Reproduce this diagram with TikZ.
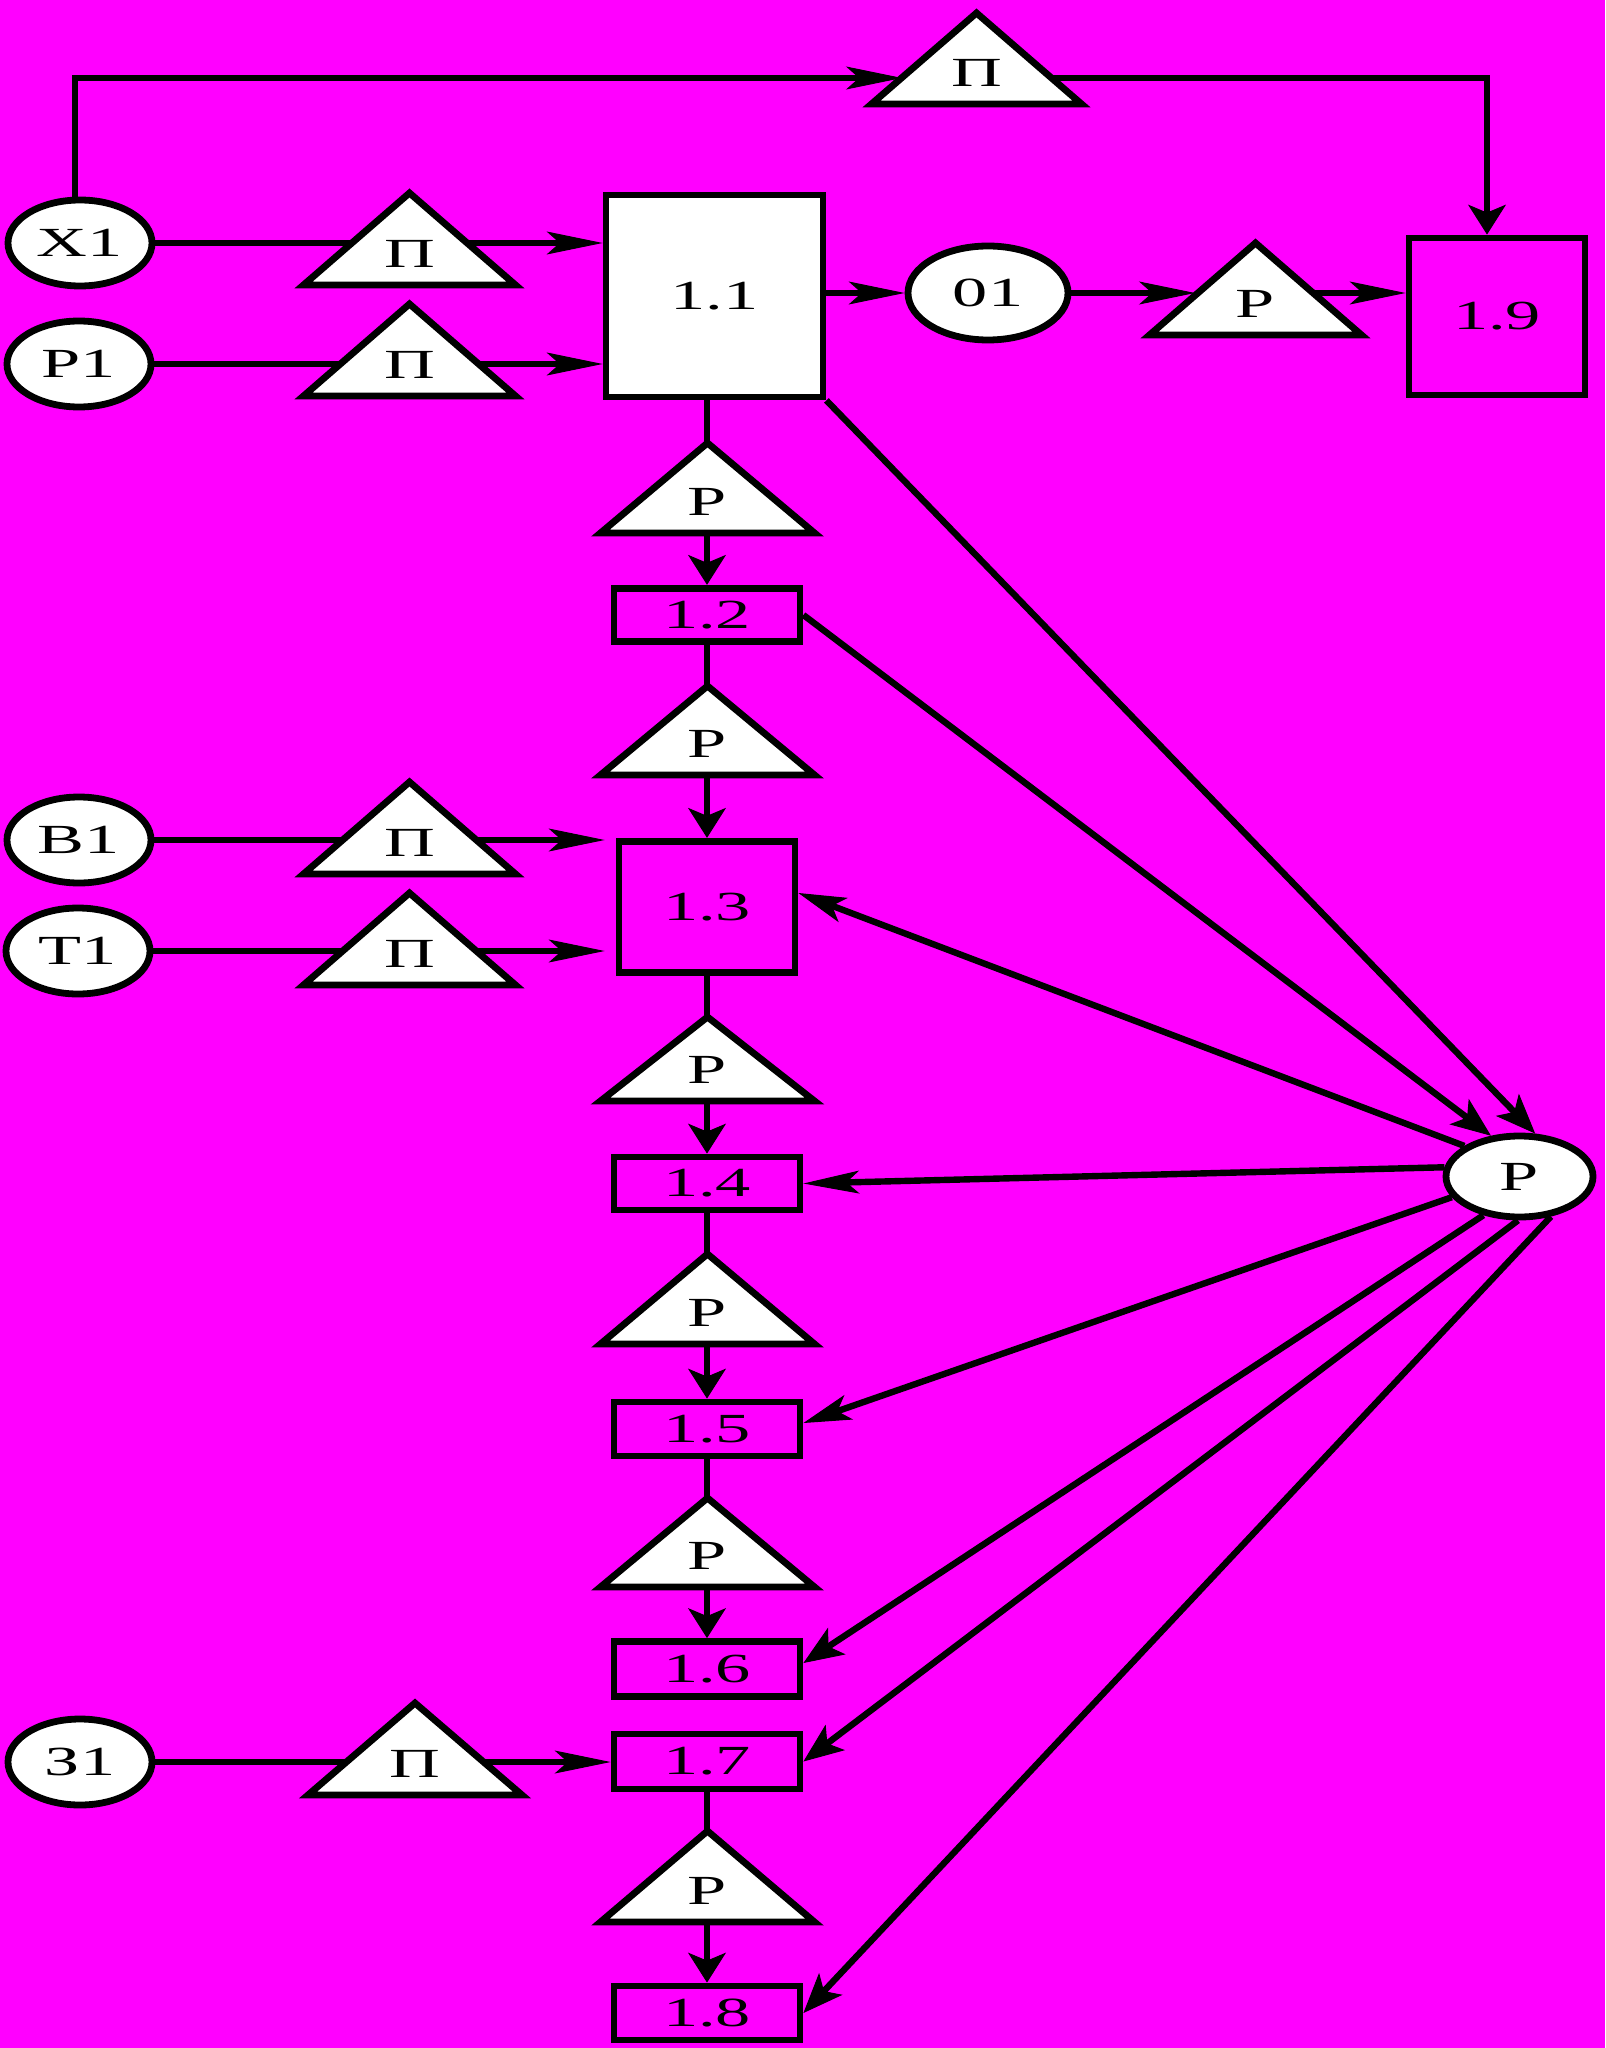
\documentclass[tikz,border=0pt]{standalone}
\usepackage{fontspec}
\newfontfamily\lblfont{Liberation Serif}[FakeStretch=1.7]
\usetikzlibrary{arrows.meta,shapes.geometric,calc}
\definecolor{bgmag}{RGB}{255,0,255}
\newcommand{\lbl}{\lblfont\fontsize{20.7pt}{24pt}\selectfont}
\newcommand{\mytri}[6]{%
  \draw[tri] ({#2-#5},#4) -- (#2,#3) -- ({#2+#5},#4) -- cycle;
  \node[lab] (#1) at (#2,{#4-31}) {#6};
}
\tikzset{
  ell/.style={ellipse, draw, fill=white, line width=3.4pt, minimum width=72pt, minimum height=43pt, inner sep=0pt, font=\lbl},
  blk/.style={rectangle, draw, line width=3.4pt, inner sep=0pt, font=\lbl},
  tri/.style={draw, fill=white, line width=3.4pt, line join=miter},
  lab/.style={inner sep=0pt, font=\lbl},
  conn/.style={line width=3.2pt},
  harr/.style={conn, -{Stealth[length=28pt,width=11.5pt,inset=6.5pt,line width=0.5pt]}},
  varr/.style={conn, -{Stealth[length=15pt,width=19pt,inset=4pt,line width=0.5pt]}},
  darr/.style={conn, -{Stealth[length=20pt,width=16pt,inset=5pt,line width=0.5pt]}},
  sarr/.style={conn, -{Stealth[length=24pt,width=13pt,inset=6pt,line width=0.5pt]}},
}
\begin{document}
\begin{tikzpicture}[x=0.5pt,y=-0.5pt]
\useasboundingbox (0,0) rectangle (1605,2048);
\fill[bgmag] (0,0) rectangle (1605,2048);

% ellipses
\node[ell] (X1) at (80,243) {Х1};
\node[ell] (P1) at (79,364) {Р1};
\node[ell] (B1) at (79,840) {В1};
\node[ell] (T1) at (78,951) {Т1};
\node[ell] (Z1) at (80,1762) {З1};
\node[ell, minimum width=80pt, minimum height=47pt] (O1) at (988,293) {01};
\node[ell, minimum width=73.5pt, minimum height=40.5pt] (R) at (1519.5,1176.5) {Р};

% boxes
\node[blk, fill=white, minimum width=108.5pt, minimum height=101pt] (b11) at (714.5,296) {1.1};
\node[blk, minimum width=88pt, minimum height=78.5pt] (b19) at (1497,316.5) {1.9};
\node[blk, minimum width=93pt, minimum height=26.75pt] (b12) at (707,615) {1.2};
\node[blk, minimum width=88pt, minimum height=65.75pt] (b13) at (707,907) {1.3};
\node[blk, minimum width=93pt, minimum height=26.5pt] (b14) at (707,1183.5) {1.4};
\node[blk, minimum width=93pt, minimum height=27pt] (b15) at (707,1429) {1.5};
\node[blk, minimum width=93pt, minimum height=27.5pt] (b16) at (707,1669) {1.6};
\node[blk, minimum width=93pt, minimum height=27.5pt] (b17) at (707,1761.5) {1.7};
\node[blk, minimum width=93pt, minimum height=27pt] (b18) at (707,2013) {1.8};

% helper coordinates
\coordinate (ttL) at (902,78);
\coordinate (ttC) at (976,78);
\coordinate (c19) at ($(b19.north)+(-10,0)$);
\coordinate (tpL) at (1195,293);
\coordinate (tpC) at (1255,293);

% top loop
\draw[harr] ($(X1.north)+(-5,0)$) |- (ttL);
\draw[varr] (ttC) -| (c19);

% inputs
\draw[harr] (X1.east) -- (X1.east -| b11.west);
\draw[harr] (P1.east) -- (P1.east -| b11.west);
\draw[harr] (B1.east) -- ($(B1.east -| b13.west)+(-11,0)$);
\draw[harr] (T1.east) -- ($(T1.east -| b13.west)+(-11,0)$);
\draw[harr] (Z1.east) -- (Z1.east -| b17.west);

% 1.1 -> 01 -> 1.9
\draw[harr] (b11.east |- O1) -- (O1.west);
\draw[harr] (O1.east) -- (tpL);
\draw[harr] (tpC) -- (tpC -| b19.west);

% column
\draw[varr] (b12.north |- b11.south) -- (b12.north);
\draw[varr] (b12.south) -- (b13.north);
\draw[varr] (b13.south) -- (b14.north);
\draw[varr] (b14.south) -- (b15.north);
\draw[varr] (b15.south) -- (b16.north);
\draw[varr] (b17.south) -- (b18.north);

% fan
\draw[darr] (b11.south east) -- (R.70.8);
\draw[darr] (b12.east) -- (R.125.9);
\draw[sarr] (R.151.8) -- ($(b13.east)+(0,-14)$);
\draw[harr] (R.173.7) -- (b14.east);
\draw[sarr] (R.197.5) -- ($(b15.east)+(0,-6)$);
\draw[darr] (R.227.2) -- ($(b16.east)+(0,-6)$);
\draw[darr] (R.268) -- (b17.east);
\draw[darr] (R.308.9) -- (b18.east);

% triangles
\mytri{tX}{409.5}{193}{285}{106}{П}
\mytri{tP}{409.5}{304}{396}{106}{П}
\mytri{tB}{409.5}{782}{874}{106}{П}
\mytri{tT}{409.5}{893}{985}{106}{П}
\mytri{tZ}{415}{1703}{1795}{107}{П}
\mytri{tTop}{976.5}{13}{104}{105}{П}
\mytri{tO}{1255.5}{243}{335}{106}{Р}
\mytri{c1}{707.5}{443}{533}{107}{Р}
\mytri{c2}{707.5}{686}{775}{107}{Р}
\mytri{c3}{707.5}{1017}{1101}{107}{Р}
\mytri{c4}{707.5}{1254}{1344}{107}{Р}
\mytri{c5}{707.5}{1498}{1587}{107}{Р}
\mytri{c6}{707.5}{1831}{1922}{107}{Р}
\end{tikzpicture}
\end{document}
